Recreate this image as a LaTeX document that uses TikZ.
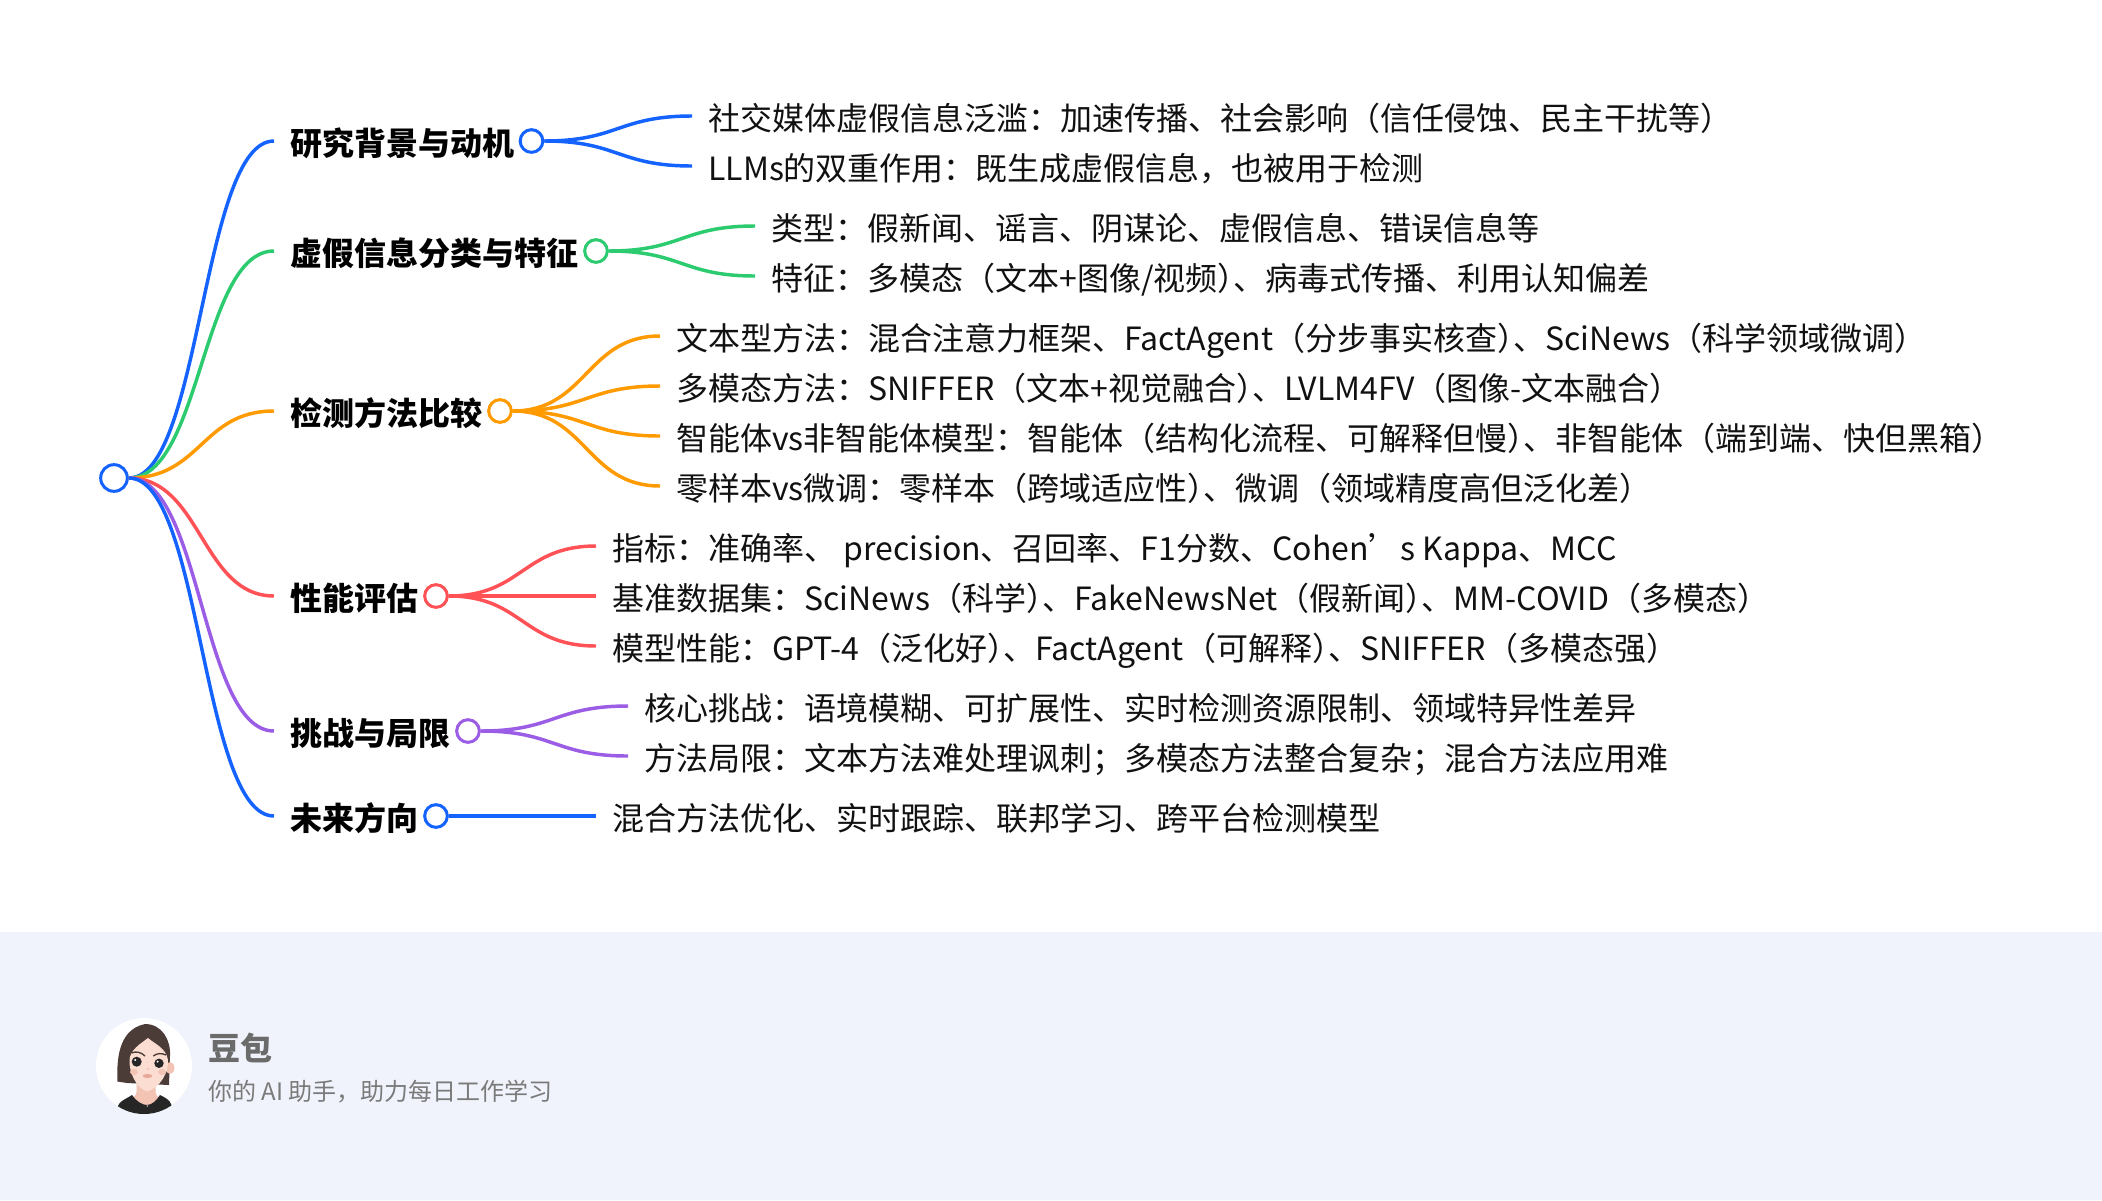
\documentclass[tikz,border=0pt]{standalone}
\usepackage{fontspec}
\setmainfont{Noto Sans CJK SC}
\usetikzlibrary{calc}
\definecolor{cblue}{HTML}{1463FF}
\definecolor{cgreen}{HTML}{2DCB70}
\definecolor{corange}{HTML}{FF9A00}
\definecolor{cred}{HTML}{FF5257}
\definecolor{cpurple}{HTML}{9B5DE5}
\definecolor{foot}{HTML}{F0F3FB}
\definecolor{ink}{HTML}{111111}
\definecolor{hair}{HTML}{4B3C38}
\definecolor{skin}{HTML}{FBDDD2}
\definecolor{skindark}{HTML}{F3C4B4}
\definecolor{lip}{HTML}{E8A79A}
\newcommand{\linkto}[3]{\draw[link,#3] let \p1=(#1.east),\p2=(#2.west),\n1={(\x1+\x2)/2} in (\p1) .. controls (\n1,\y1) and (\n1,\y2) .. (\p2);}
\newcommand{\pk}{\kern-.5em}
\tikzset{
  link/.style={line width=2.6pt,line cap=butt},
  dot/.style={circle,draw,fill=white,line width=2.25pt,minimum size=17pt,inner sep=0pt},
  headnode/.style={anchor=west,inner xsep=12pt,inner ysep=0pt,font=\fontsize{24pt}{24pt}\selectfont\bfseries,text=black,text height=23pt,text depth=1pt},
  leafnode/.style={anchor=west,inner xsep=12pt,inner ysep=0pt,font=\fontsize{24pt}{24pt}\selectfont,text=ink,text height=23pt,text depth=1pt},
}
\begin{document}
\begin{tikzpicture}[x=0.75pt,y=-0.75pt]
\useasboundingbox (0,0) rectangle (2102,1200);
\fill[white] (0,0) rectangle (2102,1200);
\fill[foot] (0,932) rectangle (2102,1200);

% heads
\node[headnode] (h1) at (274,141) {研究背景与动机};
\node[headnode] (h2) at (274,251) {虚假信息分类与特征};
\node[headnode] (h3) at (274,411) {检测方法比较};
\node[headnode] (h4) at (274,596) {性能评估};
\node[headnode] (h5) at (274,731) {挑战与局限};
\node[headnode] (h6) at (274,816) {未来方向};

% leaves
\node[leafnode] (a1) at (692,116) {社交媒体虚假信息泛滥：加速传播、社会影响（信任侵蚀、民主干扰等）};
\node[leafnode] (a2) at (692,166) {LLMs的双重作用：既生成虚假信息，也被用于检测};
\node[leafnode] (b1) at (755,226) {类型：假新闻、谣言、阴谋论、虚假信息、错误信息等};
\node[leafnode] (b2) at (755,276) {特征：多模态（文本+图像/视频）\pk、病毒式传播、利用认知偏差};
\node[leafnode] (c1) at (660,336) {文本型方法：混合注意力框架、FactAgent（分步事实核查）\pk、SciNews（科学领域微调）};
\node[leafnode] (c2) at (660,386) {多模态方法：SNIFFER（文本+视觉融合）\pk、LVLM4FV（图像-文本融合）};
\node[leafnode] (c3) at (660,436) {智能体vs非智能体模型：智能体（结构化流程、可解释但慢）\pk、非智能体（端到端、快但黑箱）};
\node[leafnode] (c4) at (660,486) {零样本vs微调：零样本（跨域适应性）\pk、微调（领域精度高但泛化差）};
\node[leafnode] (d1) at (596,546) {指标：准确率、 precision、召回率、F1分数、Cohen’s Kappa、MCC};
\node[leafnode] (d2) at (596,596) {基准数据集：SciNews（科学）\pk、FakeNewsNet（假新闻）\pk、MM-COVID（多模态）};
\node[leafnode] (d3) at (596,646) {模型性能：GPT-4（泛化好）\pk、FactAgent（可解释）\pk、SNIFFER（多模态强）};
\node[leafnode] (e1) at (628,706) {核心挑战：语境模糊、可扩展性、实时检测资源限制、领域特异性差异};
\node[leafnode] (e2) at (628,756) {方法局限：文本方法难处理讽刺；多模态方法整合复杂；混合方法应用难};
\node[leafnode] (f1) at (596,816) {混合方法优化、实时跟踪、联邦学习、跨平台检测模型};

% branch dots
\node[dot,draw=cblue] (n1) at (531.5,141) {};
\node[dot,draw=cgreen] (n2) at (596,251) {};
\node[dot,draw=corange] (n3) at (500,411) {};
\node[dot,draw=cred] (n4) at (436,596) {};
\node[dot,draw=cpurple] (n5) at (468,731) {};
\node[dot,draw=cblue] (n6) at (436,816) {};
\node[dot,draw=cblue,minimum size=20pt] (root) at (114,478) {};

% connectors
\linkto{root}{h1}{cblue}
\linkto{root}{h2}{cgreen}
\linkto{root}{h3}{corange}
\linkto{root}{h4}{cred}
\linkto{root}{h5}{cpurple}
\linkto{root}{h6}{cblue}
\linkto{n1}{a1}{cblue}
\linkto{n1}{a2}{cblue}
\linkto{n2}{b1}{cgreen}
\linkto{n2}{b2}{cgreen}
\linkto{n3}{c1}{corange}
\linkto{n3}{c2}{corange}
\linkto{n3}{c3}{corange}
\linkto{n3}{c4}{corange}
\linkto{n4}{d1}{cred}
\linkto{n4}{d2}{cred}
\linkto{n4}{d3}{cred}
\linkto{n5}{e1}{cpurple}
\linkto{n5}{e2}{cpurple}
\linkto{n6}{f1}{cblue}

% footer text
\node[anchor=west,inner sep=0pt,text=black!58,font=\fontsize{24pt}{24pt}\selectfont\bfseries] (brand) at (208,1048) {豆包};
\node[anchor=west,inner sep=0pt,text=black!52,font=\fontsize{18pt}{18pt}\selectfont] (slogan) at (208,1092) {你的 AI 助手，助力每日工作学习};

% avatar
\fill[white] (144,1066) circle (48);
\begin{scope}
\clip (144,1066) circle (48);
% neck
\fill[skindark] (136.5,1082) -- (136.5,1092) .. controls (136,1097) and (132,1098) .. (128,1100) -- (147,1110) -- (165,1100) .. controls (160,1098) and (156,1097) .. (155.5,1092) -- (155.5,1082) -- cycle;
% body
\fill[black!85] (117,1116) .. controls (116,1108) and (118,1104) .. (122,1101) .. controls (125,1099) and (129,1097) .. (132,1095) .. controls (136,1101) and (142,1105) .. (147,1105) .. controls (152,1105) and (157,1100) .. (160,1095) .. controls (164,1097) and (168,1099) .. (170,1102) .. controls (172,1105) and (173,1110) .. (173,1116) -- cycle;
\end{scope}
\fill[white!60!black] (147.3,1106) circle (1);
% hair
\fill[hair] (117.3,1081.5) .. controls (117,1062) and (117,1030) .. (145,1024) .. controls (162,1024) and (171,1040) .. (170,1056) -- (169,1085) -- (127,1083) -- cycle;
% ear
\fill[skindark] (170,1068) ellipse (4.5 and 6);
% face
\fill[skin] (129.5,1060) .. controls (130,1050) and (140,1044) .. (148,1038) .. controls (155,1044) and (166,1048) .. (168,1060) .. controls (169,1072) and (160,1088) .. (147,1091.5) .. controls (136,1088) and (129,1072) .. (129.5,1060) -- cycle;
% cheeks
\fill[skindark] (134,1072) ellipse (4 and 3);
\fill[skindark] (162,1072) ellipse (4 and 3);
% eyes
\fill[black!85] (136.7,1061.7) circle (5);
\fill[black!85] (159,1063.3) circle (4.7);
\fill[white] (135.3,1060) circle (1.1);
\fill[white] (157.6,1061.6) circle (1.1);
% brows
\draw[hair,line width=1pt] (131.5,1053) .. controls (136,1051) and (141,1052) .. (145,1056);
\draw[hair,line width=1pt] (153.3,1056) .. controls (157,1053) and (162,1053) .. (166,1055);
% nose and mouth
\fill[skindark] (148,1069) ellipse (1.6 and 1.2);
\fill[lip] (147.5,1076) ellipse (5 and 2);
\end{tikzpicture}
\end{document}
